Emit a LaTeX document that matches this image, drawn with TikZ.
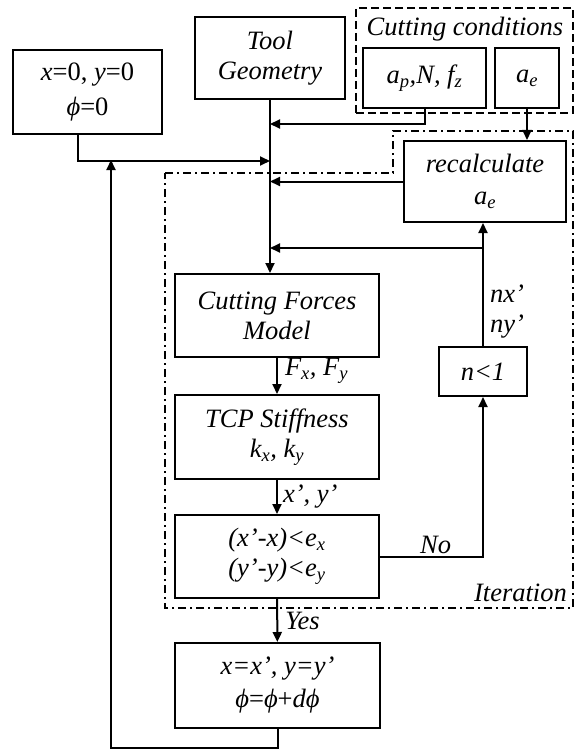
\documentclass[tikz,border=0pt]{standalone}
\usepackage{fontspec}
\setmainfont{Liberation Serif}
\usetikzlibrary{arrows.meta,calc}
\newcommand{\fs}{\fontsize{26.5}{30}\selectfont}
\newcommand{\lo}[1]{\textsubscript{#1}}
\tikzset{
  >={Triangle[length=10pt,width=9pt]},
  box/.style={draw,line width=2pt,inner sep=0pt,align=center,font=\fs\itshape},
  lab/.style={font=\fs\itshape,inner sep=2pt,align=left},
  arr/.style={->,line width=2pt},
  dbox/.style={draw,line width=1.6pt,dash pattern=on 8pt off 4pt},
  dash dot box/.style={draw,line width=1.6pt,dash pattern=on 8pt off 4pt on 2pt off 4pt},
}

\begin{document}
\begin{tikzpicture}[x=1pt,y=-1pt]
\useasboundingbox (0,0) rectangle (575,749);
% cutting conditions group
\node[dbox,minimum width=217,minimum height=105] (cond) at (464.5,60.5) {};
\node[lab] (condlab) at (465,29) {Cutting conditions};
\node[box,minimum width=123,minimum height=60] (apn) at (424.5,78) {a\lo{p},N, f\lo{z}};
\node[box,minimum width=64,minimum height=60] (ae) at (527,78) {a\lo{e}};
% iteration region
\draw[dash dot box] (165,173) -- (393,173) -- (393,131) -- (573,131) -- (573,608) -- (165,608) -- cycle;
\node[lab,anchor=east] (iterlab) at (569,593) {Iteration};
% main boxes
\node[box,minimum width=149,minimum height=84] (init) at (87.5,92) {x\textup{=0,} y\textup{=0}\\[5pt]ϕ\textup{=0}};
\node[box,minimum width=150,minimum height=82] (tool) at (270,58) {Tool\\Geometry};
\node[box,minimum width=162,minimum height=81] (recalc) at (485,181.5) {recalculate\\[2pt]a\lo{e}};
\node[box,minimum width=204,minimum height=83] (forces) at (277,315.5) {Cutting Forces\\Model};
\node[box,minimum width=204,minimum height=84] (tcp) at (277,437) {TCP Stiffness\\k\lo{x}, k\lo{y}};
\node[box,minimum width=204,minimum height=83] (check) at (277,556.5) {(x’-x)<e\lo{x}\\(y’-y)<e\lo{y}};
\node[box,minimum width=88,minimum height=49] (nbox) at (483,371.5) {n<1};
\node[box,minimum width=205,minimum height=85] (update) at (277.5,685.5) {x=x’, y=y’\\[3pt]ϕ\textup{=}ϕ\textup{+}dϕ};
% junctions on the main line
\path (tool.south) ++(0,24) coordinate (j1) ++(0,37) coordinate (j2);
\path (tool.south) ++(0,148) coordinate (j4);
\coordinate (back) at (111,160);
% connectors
\draw[arr] (tool.south) -- (tool.south |- forces.north);
\draw[arr] (apn.south) |- (j1);
\draw[arr] ([xshift=-10pt]init.south) |- (j2);
\draw[arr] (ae.south) -- (ae.south |- recalc.north);
\draw[arr] (recalc.west) -- (recalc.west -| tool.south);
\draw[arr] (nbox.north) -- (nbox.north |- recalc.south);
\draw[arr] (nbox.north |- j4) -- (j4);
\node[lab,anchor=west] (nxny) at (488,312) {nx’\\ny’};
\draw[arr] (forces) -- node[lab,right,xshift=5pt,yshift=5pt] {F\lo{x}, F\lo{y}} (tcp);
\draw[arr] (tcp) -- node[lab,right,xshift=3pt] {x’, y’} (check);
\draw[arr] (check.east) -| node[lab,pos=0.27,above] {No} (nbox.south);
\draw[arr] (check) -- node[lab,right,xshift=5pt] {Yes} (update);
\draw[arr] (update.south) -- ++(0,19) -| (back);
\end{tikzpicture}
\end{document}
